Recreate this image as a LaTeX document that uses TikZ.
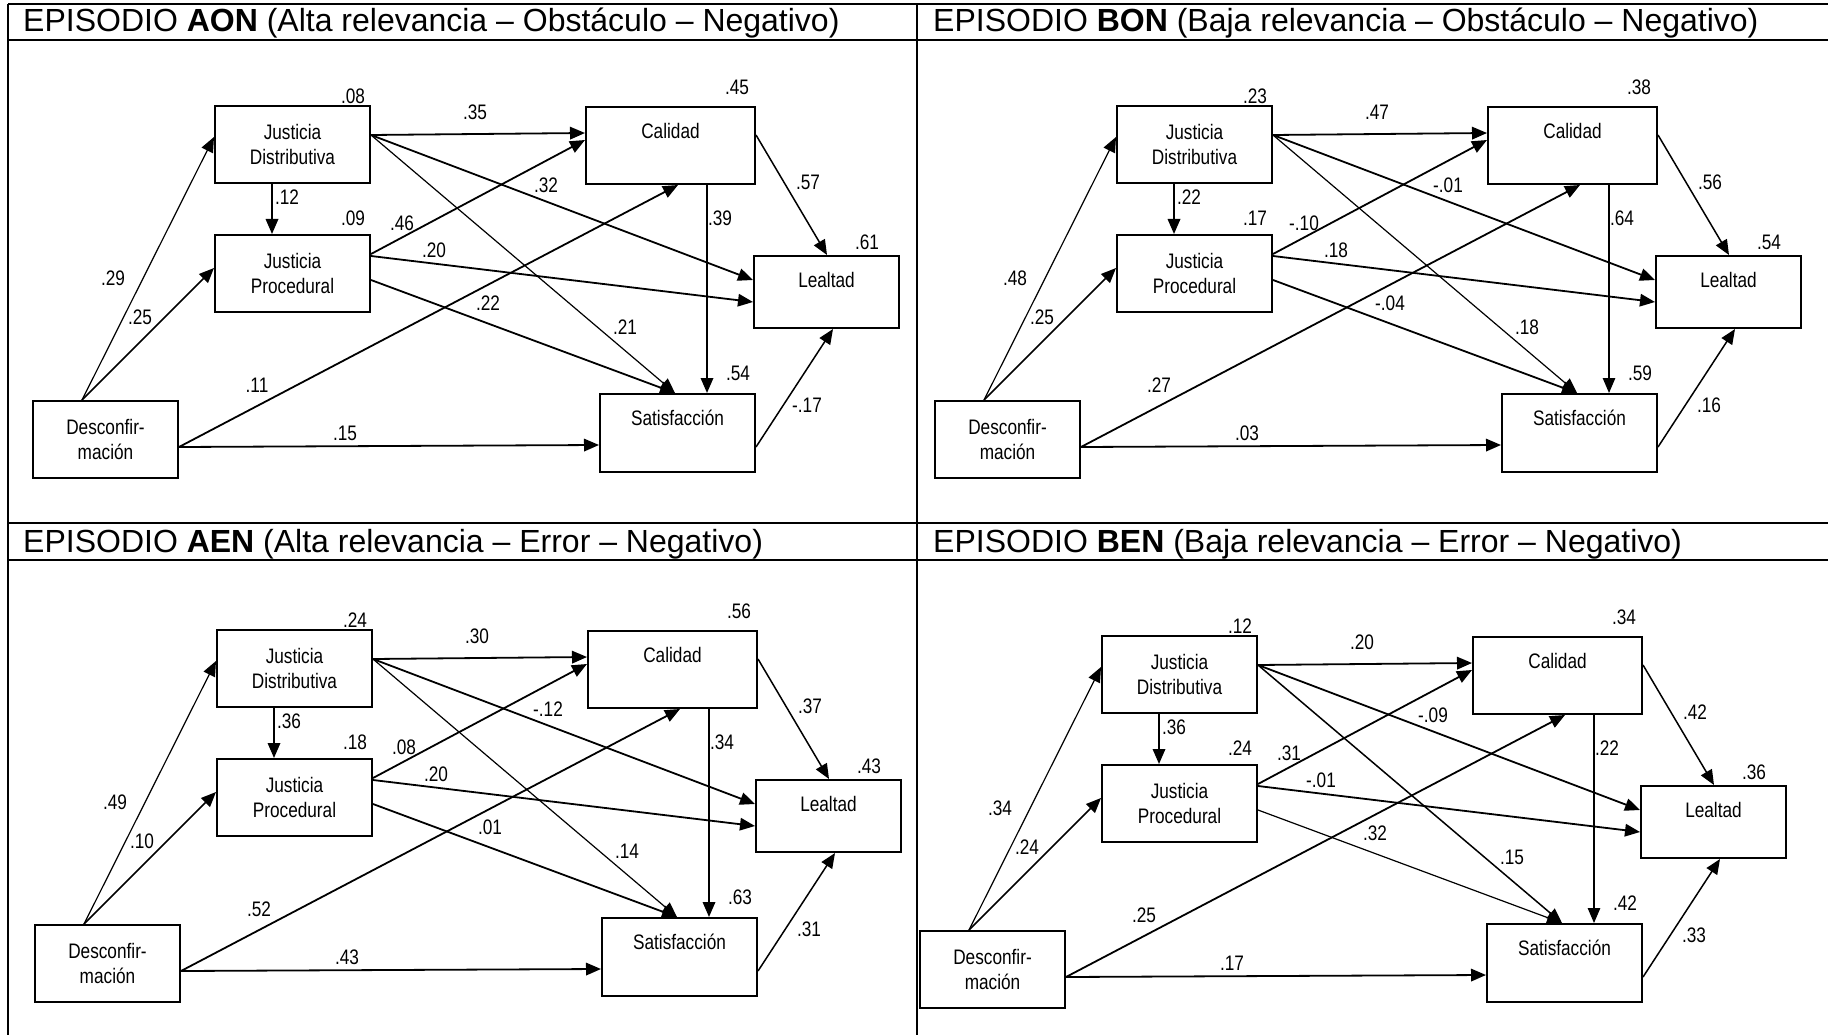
\documentclass[tikz,border=0pt]{standalone}
\usepackage{fontspec}
\setmainfont{Liberation Sans}
\newfontfamily\diagfont{Liberation Sans}[FakeStretch=0.82]
\usetikzlibrary{arrows.meta,calc}

\tikzset{
  varbox/.style={draw, line width=2pt, fill=white, inner sep=0pt, align=center,
    font=\diagfont\fontsize{21}{25}\selectfont},
  midbox/.style={varbox, minimum width=155pt, minimum height=77pt},
  descbox/.style={varbox, minimum width=145pt, minimum height=77pt},
  topbox/.style n args={2}{varbox, minimum width=#1, text height=31.5pt, text depth=#2},
  coef/.style={inner sep=0pt, font=\diagfont\fontsize{21}{25}\selectfont},
  effect/.style={line width=1.8pt, -{Triangle[length=15pt,width=12.5pt]}},
  weak/.style={effect, line width=1.2pt},
  medium/.style={effect, line width=1.5pt},
  % per-path line weights, changed where a model draws a path lighter
  pDeJd/.style={weak}, pJdSa/.style={weak}, pCaSa/.style={effect},
  pJpSa/.style={effect}, pCaLe/.style={medium}, pSaLe/.style={medium},
  gridline/.style={line width=2pt},
  eptitle/.style={anchor=base west, inner sep=0pt, font=\fontsize{32}{32}\selectfont}
}

% explained variance of the five endogenous variables
\newcommand\Rsq[5]{\def\rJD{#1}\def\rJP{#2}\def\rCA{#3}\def\rLE{#4}\def\rSA{#5}}
% path coefficients, first and second group
\newcommand\CoefA[7]{\def\cDeJd{#1}\def\cDeJp{#2}\def\cJdJp{#3}\def\cJdCa{#4}\def\cJdLe{#5}\def\cJdSa{#6}\def\cJpCa{#7}}
\newcommand\CoefB[7]{\def\cJpLe{#1}\def\cJpSa{#2}\def\cDeCa{#3}\def\cDeSa{#4}\def\cCaSa{#5}\def\cCaLe{#6}\def\cSaLe{#7}}

% one path model; #1 name prefix, #2/#3 shift
\newcommand\EpPanel[3]{%
\begin{scope}[shift={(#2,#3)}]
  \node[midbox] (#1jd) at (292.5,144.5) {Justicia\\Distributiva};
  \node[midbox] (#1jp) at (292.5,273.5) {Justicia\\Procedural};
  \node[descbox] (#1de) at (105.5,439.5) {Desconfir-\\mación};
  \node[topbox={169pt}{45.5pt}] (#1ca) at (670.5,145.5) {Calidad};
  \node[topbox={145pt}{40.5pt}] (#1le) at (826.5,292) {Lealtad};
  \node[topbox={155pt}{46.5pt}] (#1sa) at (677.5,433) {Satisfacción};

  \draw[pDeJd]  ($(#1de.north)+(-23.5,0)$) -- ($(#1jd.west)+(0,-7.5)$);
  \draw[medium] ($(#1de.north)+(-23.5,0)$) -- ($(#1jp.west)+(0,-5.5)$);
  \draw[effect] ($(#1jd.south)+(-20.5,0)$) -- ($(#1jp.north)+(-20.5,0)$);
  \draw[effect] ($(#1jd.east)+(0,-9.5)$) -- ($(#1ca.west)+(0,-12.5)$);
  \draw[effect] ($(#1jd.east)+(0,-9.5)$) -- ($(#1le.west)+(0,-12)$);
  \draw[pJdSa]  ($(#1jd.east)+(0,-9.5)$) -- ($(#1sa.north)+(-2.5,0)$);
  \draw[effect] ($(#1jp.east)+(0,-19.5)$) -- ($(#1ca.west)+(0,-5.5)$);
  \draw[effect] ($(#1jp.east)+(0,-17.5)$) -- ($(#1le.west)+(0,10)$);
  \draw[pJpSa]  ($(#1jp.east)+(0,6.5)$) -- ($(#1sa.north)+(-2.5,0)$);
  \draw[effect] ($(#1de.east)+(0,7.5)$) -- ($(#1ca.south)+(7.5,0)$);
  \draw[effect] ($(#1de.east)+(0,7.5)$) -- ($(#1sa.west)+(0,12)$);
  \draw[pCaSa]  ($(#1ca.south)+(36.5,0)$) -- ($(#1sa.north)+(29.5,0)$);
  \draw[pCaLe]  ($(#1ca.east)+(0,-10.5)$) -- ($(#1le.north)+(0.5,0)$);
  \draw[pSaLe]  ($(#1sa.east)+(0,14)$) -- ($(#1le.south)+(6.5,0)$);

  \node[coef] (#1rjd) at (353,96)  {\rJD};
  \node[coef] (#1rjp) at (353,218) {\rJP};
  \node[coef] (#1rca) at (737,87)  {\rCA};
  \node[coef] (#1rle) at (867,242) {\rLE};
  \node[coef] (#1rsa) at (738,373) {\rSA};

  \node[coef] (#1k1)  at (113,278) {\cDeJd};
  \node[coef] (#1k2)  at (140,317) {\cDeJp};
  \node[coef] (#1k3)  at (287,197) {\cJdJp};
  \node[coef] (#1k4)  at (475,112) {\cJdCa};
  \node[coef] (#1k5)  at (546,185) {\cJdLe};
  \node[coef] (#1k6)  at (625,327) {\cJdSa};
  \node[coef] (#1k7)  at (402,223) {\cJpCa};
  \node[coef] (#1k8)  at (434,250) {\cJpLe};
  \node[coef] (#1k9)  at (488,303) {\cJpSa};
  \node[coef] (#1k10) at (257,385) {\cDeCa};
  \node[coef] (#1k11) at (345,433) {\cDeSa};
  \node[coef] (#1k12) at (720,218) {\cCaSa};
  \node[coef] (#1k13) at (808,182) {\cCaLe};
  \node[coef] (#1k14) at (807,405) {\cSaLe};
\end{scope}}

\begin{document}
\begin{tikzpicture}[x=1pt,y=-1pt]
  \useasboundingbox (0,0) rectangle (1828,1035);

  % table frame
  \draw[gridline] (8,4) -- (1828,4);
  \draw[gridline] (8,40) -- (1828,40);
  \draw[gridline] (8,523) -- (1828,523);
  \draw[gridline] (8,560) -- (1828,560);
  \draw[gridline] (8,4) -- (8,1035);
  \draw[line width=1.6pt] (917,4) -- (917,1035);

  % episode headings
  \node[eptitle] (tAON) at (23,32)  {EPISODIO \textbf{AON} (Alta relevancia – Obstáculo – Negativo)};
  \node[eptitle] (tBON) at (933,32) {EPISODIO \textbf{BON} (Baja relevancia – Obstáculo – Negativo)};
  \node[eptitle] (tAEN) at (23,552)  {EPISODIO \textbf{AEN} (Alta relevancia – Error – Negativo)};
  \node[eptitle] (tBEN) at (933,552) {EPISODIO \textbf{BEN} (Baja relevancia – Error – Negativo)};

  % AON
  \Rsq{.08}{.09}{.45}{.61}{.54}
  \CoefA{.29}{.25}{.12}{.35}{.32}{.21}{.46}
  \CoefB{.20}{.22}{.11}{.15}{.39}{.57}{-.17}
  \EpPanel{a}{0}{0}

  % BON
  \begin{scope}[pCaSa/.style={weak}]
  \Rsq{.23}{.17}{.38}{.54}{.59}
  \CoefA{.48}{.25}{.22}{.47}{-.01}{.18}{-.10}
  \CoefB{.18}{-.04}{.27}{.03}{.64}{.56}{.16}
  \EpPanel{b}{902}{0}
  \end{scope}

  % AEN
  \Rsq{.24}{.18}{.56}{.43}{.63}
  \CoefA{.49}{.10}{.36}{.30}{-.12}{.14}{.08}
  \CoefB{.20}{.01}{.52}{.43}{.34}{.37}{.31}
  \EpPanel{c}{2}{524}

  % BEN
  \begin{scope}[pCaSa/.style={weak}, pJpSa/.style={weak}, pJdSa/.style={medium}]
  \Rsq{.12}{.24}{.34}{.36}{.42}
  \CoefA{.34}{.24}{.36}{.20}{-.09}{.15}{.31}
  \CoefB{-.01}{.32}{.25}{.17}{.22}{.42}{.33}
  \EpPanel{d}{887}{530}
  \end{scope}
\end{tikzpicture}
\end{document}
